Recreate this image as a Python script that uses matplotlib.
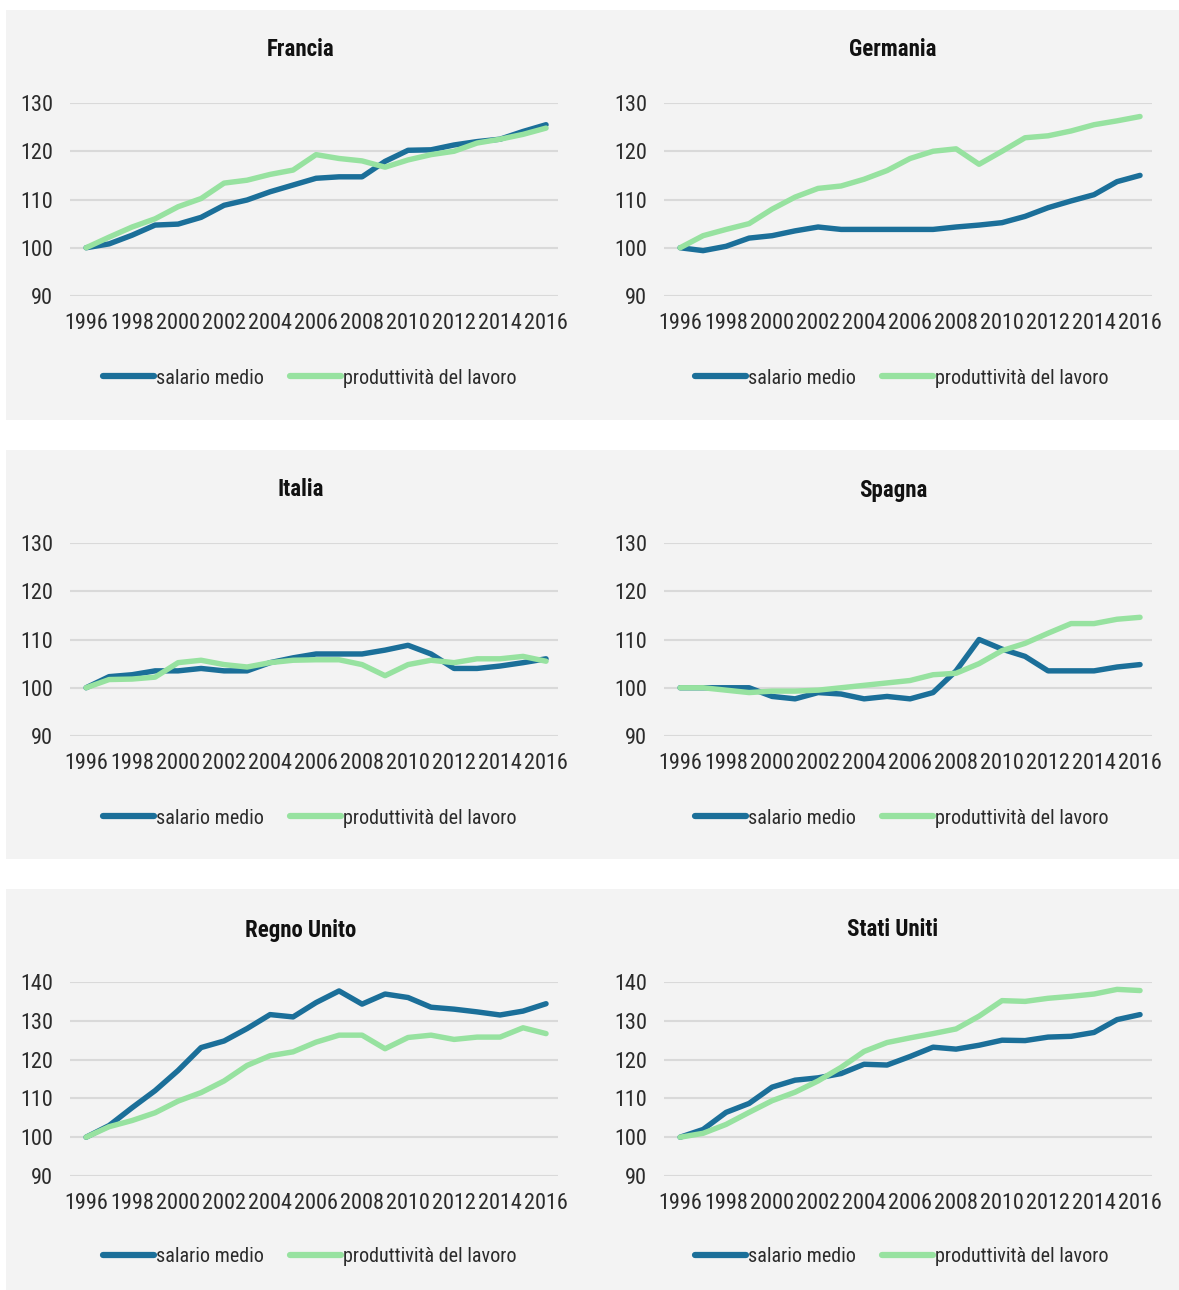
import matplotlib
matplotlib.use("Agg")
import matplotlib.pyplot as plt
from matplotlib.patches import Rectangle
from matplotlib.lines import Line2D
from matplotlib import font_manager

names = {f.name for f in font_manager.fontManager.ttflist}
pref = [n for n in ['Roboto Condensed', 'Liberation Sans Narrow', 'Open Sans Condensed', 'Roboto']
        if n in names]
plt.rcParams['font.family'] = pref + ['DejaVu Sans']

years = list(range(1996, 2017))
xtick_years = list(range(1996, 2017, 2))
series_labels = ["salario medio", "produttività del lavoro"]
countries = ["Francia", "Germania", "Italia", "Spagna", "Regno Unito", "Stati Uniti"]

francia_salario = [100, 100.8, 102.6, 104.7, 104.9, 106.3, 108.8, 109.9, 111.6, 113.0, 114.4,
                   114.7, 114.7, 117.9, 120.2, 120.3, 121.3, 122.0, 122.5, 124.1, 125.5]
francia_produttivita = [100, 102.2, 104.3, 106.0, 108.5, 110.2, 113.4, 114.0, 115.2, 116.1, 119.3,
                        118.5, 118.0, 116.7, 118.2, 119.3, 120.0, 121.7, 122.5, 123.5, 124.8]

germania_salario = [100, 99.4, 100.3, 102.0, 102.5, 103.5, 104.3, 103.8, 103.8, 103.8, 103.8,
                    103.8, 104.3, 104.7, 105.2, 106.5, 108.3, 109.7, 111.0, 113.7, 115.0]
germania_produttivita = [100, 102.5, 103.8, 105.0, 108.0, 110.5, 112.3, 112.8, 114.2, 116.0, 118.5,
                         120.0, 120.5, 117.3, 120.0, 122.8, 123.2, 124.2, 125.5, 126.3, 127.2]

italia_salario = [100, 102.3, 102.7, 103.5, 103.5, 104.0, 103.5, 103.5, 105.2, 106.2, 107.0,
                  107.0, 107.0, 107.8, 108.8, 107.0, 104.0, 104.0, 104.5, 105.2, 106.0]
italia_produttivita = [100, 101.7, 101.8, 102.2, 105.2, 105.7, 104.8, 104.3, 105.2, 105.7, 105.8,
                       105.8, 104.8, 102.5, 104.8, 105.7, 105.2, 106.0, 106.0, 106.5, 105.5]

spagna_salario = [100, 100, 100, 100, 98.2, 97.7, 99.0, 98.7, 97.7, 98.2, 97.7,
                  99.0, 103.5, 110.0, 108.0, 106.5, 103.5, 103.5, 103.5, 104.3, 104.8]
spagna_produttivita = [100, 100, 99.5, 99.0, 99.3, 99.3, 99.5, 100.0, 100.5, 101.0, 101.5,
                       102.7, 103.0, 105.0, 107.7, 109.2, 111.3, 113.3, 113.3, 114.2, 114.6]

regno_unito_salario = [100, 103.0, 107.6, 112.0, 117.2, 123.1, 124.8, 128.0, 131.6, 131.0, 134.7,
                       137.7, 134.3, 136.9, 136.0, 133.5, 133.0, 132.3, 131.5, 132.5, 134.4]
regno_unito_produttivita = [100, 102.7, 104.3, 106.3, 109.3, 111.5, 114.5, 118.5, 121.0, 122.0, 124.5,
                            126.3, 126.3, 122.8, 125.7, 126.3, 125.2, 125.8, 125.8, 128.2, 126.7]

stati_uniti_salario = [100, 102.0, 106.4, 108.7, 112.9, 114.7, 115.3, 116.4, 118.8, 118.6, 120.8,
                       123.2, 122.7, 123.7, 125.0, 124.9, 125.8, 126.0, 127.0, 130.3, 131.6]
stati_uniti_produttivita = [100, 101.0, 103.3, 106.4, 109.4, 111.6, 114.5, 118.0, 122.1, 124.4, 125.6,
                            126.7, 127.9, 131.2, 135.2, 135.0, 135.8, 136.3, 136.9, 138.1, 137.8]

salario = [francia_salario, germania_salario, italia_salario, spagna_salario,
           regno_unito_salario, stati_uniti_salario]
produttivita = [francia_produttivita, germania_produttivita, italia_produttivita,
                spagna_produttivita, regno_unito_produttivita, stati_uniti_produttivita]
yticks_small = [90, 100, 110, 120, 130]
yticks_large = [90, 100, 110, 120, 130, 140]

BLUE = "#1b6f99"
GREEN = "#97e2a0"
BG = "#f3f3f3"
GRID = "#d9d9d9"
TXT = "#2b2b2b"

W, H = 1179, 1290
fig = plt.figure(figsize=(W / 100, H / 100), dpi=100)
fig.patch.set_facecolor("white")

def fx(px):
    return px / W

def fy(py):
    return 1 - py / H

# background bands
for top, bot in [(10, 420), (450, 859), (889, 1290)]:
    fig.add_artist(Rectangle((fx(6), fy(bot)), fx(W - 6), (bot - top) / H,
                             transform=fig.transFigure, facecolor=BG, edgecolor="none", zorder=0))

row_geom = [  # (title_y, axes_top, axes_bottom, legend_y)
    (50, 103, 296, 378),
    (490, 543, 736, 818),
    (930, 982, 1176, 1257),
]
col_geom = [  # (axes_left, axes_right, title_x, legend_x)
    (70, 558, 301, 310),
    (664, 1152, 893, 902),
]

for i, name in enumerate(countries):
    r, c = divmod(i, 2)
    ty, atop, abot, ly = row_geom[r]
    al, ar, tx, lx = col_geom[c]
    ax = fig.add_axes([fx(al), fy(abot), (ar - al) / W, (abot - atop) / H])
    ax.set_facecolor("none")
    ax.plot(years, salario[i], color=BLUE, lw=3.9, solid_capstyle="round",
            solid_joinstyle="round", zorder=3)
    ax.plot(years, produttivita[i], color=GREEN, lw=3.9, solid_capstyle="round",
            solid_joinstyle="round", zorder=3)
    yt = yticks_large if r == 2 else yticks_small
    ax.set_ylim(yt[0], yt[-1])
    ax.set_yticks(yt)
    ax.set_xlim(1995.3, 2016.52)
    ax.set_xticks(xtick_years)
    ax.set_xticklabels([str(y) for y in xtick_years])
    ax.grid(axis="y", color=GRID, lw=1.5)
    ax.set_axisbelow(True)
    for s in ax.spines.values():
        s.set_visible(False)
    ax.tick_params(axis="both", length=0, labelsize=16, labelcolor=TXT)
    ax.tick_params(axis="y", pad=12)
    ax.tick_params(axis="x", pad=12)
    for lab in ax.get_yticklabels() + ax.get_xticklabels():
        lab.set_clip_on(False)
    fig.text(fx(tx), fy(ty), name, ha="center", va="center", fontsize=16.5,
             fontweight="bold", color="#111111")
    handles = [Line2D([], [], color=BLUE, lw=4.5, solid_capstyle="round"),
               Line2D([], [], color=GREEN, lw=4.5, solid_capstyle="round")]
    fig.legend(handles, series_labels, loc="center", bbox_to_anchor=(fx(lx), fy(ly)),
               bbox_transform=fig.transFigure, ncol=2, frameon=False, fontsize=14.5,
               handlelength=2.5, handletextpad=0.12, columnspacing=1.3, labelcolor=TXT)

fig.savefig("out.png", dpi=100, facecolor="white")
